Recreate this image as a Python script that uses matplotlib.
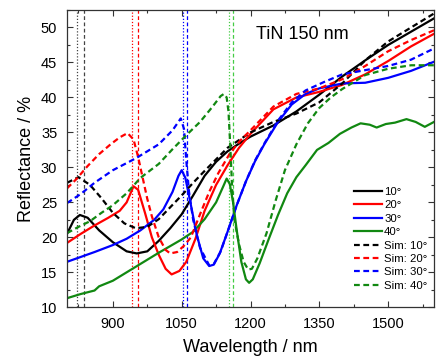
import numpy as np
import matplotlib
matplotlib.use("Agg")
import matplotlib.pyplot as plt
from matplotlib.ticker import MultipleLocator

plt.rcParams['font.family'] = ['Liberation Sans', 'DejaVu Sans']

# measured spectra (wavelength in nm, reflectance in %)
wl_10 = [800, 815, 828, 845, 870, 900, 930, 952, 975, 1000, 1025, 1050, 1075, 1100,
         1125, 1150, 1175, 1200, 1250, 1300, 1350, 1400, 1450, 1500, 1550, 1600]
r_10 = [20.5, 22.5, 23.2, 22.8, 21.0, 19.3, 18.0, 17.7, 18.0, 19.5, 21.3, 23.3, 26.0, 28.8,
        30.8, 32.3, 33.4, 34.4, 36.0, 38.0, 40.4, 43.0, 45.3, 47.5, 49.4, 51.3]

wl_20 = [800, 830, 860, 890, 915, 930, 945, 955, 970, 985, 1000, 1015, 1028, 1045, 1060,
         1080, 1100, 1125, 1150, 1175, 1200, 1250, 1300, 1350, 1400, 1450, 1500, 1550, 1600]
r_20 = [19.2, 20.5, 21.7, 22.8, 23.8, 25.0, 27.3, 26.8, 23.5, 20.0, 17.5, 15.5, 14.7, 15.2, 16.5,
        19.8, 23.8, 27.5, 30.3, 32.8, 34.8, 38.3, 40.0, 40.8, 41.8, 43.3, 45.2, 47.3, 49.1]

wl_30 = [800, 830, 860, 900, 930, 960, 990, 1010, 1030, 1043, 1050, 1058, 1068, 1083, 1097,
         1110, 1120, 1133, 1150, 1170, 1190, 1210, 1230, 1260, 1290, 1320, 1350, 1400, 1450,
         1500, 1550, 1600]
r_30 = [16.5, 17.2, 17.9, 18.9, 19.8, 21.0, 22.5, 24.0, 26.5, 28.8, 29.6, 28.5, 25.3, 20.3, 17.0,
        15.9, 16.1, 17.7, 20.8, 24.6, 28.0, 30.9, 33.3, 36.5, 39.0, 40.5, 41.3, 42.0, 42.1,
        42.8, 43.8, 45.1]

wl_40 = [800, 830, 860, 870, 900, 950, 1000, 1050, 1075, 1100, 1125, 1140, 1148, 1155, 1162,
         1170, 1180, 1190, 1197, 1205, 1220, 1240, 1260, 1280, 1300, 1320, 1345, 1370, 1395,
         1420, 1440, 1460, 1475, 1495, 1515, 1540, 1560, 1580, 1600]
r_40 = [11.3, 11.9, 12.4, 13.0, 13.8, 15.8, 17.8, 19.7, 20.8, 22.6, 25.0, 27.2, 28.4, 27.6, 25.0,
        21.0, 16.5, 14.0, 13.5, 14.0, 16.3, 19.8, 23.2, 26.3, 28.6, 30.3, 32.5, 33.5, 34.8,
        35.7, 36.3, 36.1, 35.7, 36.2, 36.4, 36.9, 36.5, 35.8, 36.5]

# simulated spectra
wl_s10 = [800, 825, 850, 875, 900, 925, 950, 975, 1000, 1025, 1050, 1075, 1100, 1150, 1200,
          1250, 1300, 1350, 1400, 1450, 1500, 1550, 1600]
r_s10 = [27.8, 28.6, 27.5, 25.6, 23.5, 22.0, 21.3, 21.5, 22.6, 24.3, 26.0, 27.8, 29.5, 32.8, 35.0,
         36.5, 37.7, 39.3, 42.0, 45.3, 48.0, 50.0, 52.0]

wl_s20 = [800, 820, 845, 870, 895, 915, 932, 945, 955, 965, 975, 985, 1000, 1015, 1025, 1040,
          1055, 1070, 1090, 1110, 1130, 1155, 1180, 1200, 1250, 1300, 1350, 1400, 1450, 1500,
          1550, 1600]
r_s20 = [27.0, 28.3, 30.2, 31.9, 33.3, 34.3, 34.9, 34.0, 31.5, 28.5, 25.5, 23.0, 20.0, 18.2, 17.7,
         17.9, 18.8, 20.0, 23.3, 26.5, 29.2, 32.0, 34.0, 35.3, 38.7, 40.5, 41.3, 42.6, 44.5,
         46.6, 48.2, 49.6]

wl_s30 = [800, 830, 860, 900, 950, 1000, 1030, 1048, 1055, 1060, 1066, 1075, 1090, 1110, 1120,
          1135, 1150, 1170, 1190, 1210, 1230, 1260, 1290, 1320, 1360, 1400, 1450, 1500, 1550, 1600]
r_s30 = [24.9, 26.2, 27.8, 29.6, 31.3, 33.3, 35.3, 37.0, 35.5, 31.0, 26.5, 22.5, 18.5, 16.0, 16.2,
         18.0, 20.8, 24.6, 28.0, 31.0, 33.4, 36.7, 39.3, 41.0, 42.2, 43.3, 43.9, 44.5, 45.4, 47.0]

wl_s40 = [800, 825, 850, 875, 900, 930, 960, 1000, 1030, 1060, 1090, 1115, 1135, 1142, 1148,
          1152, 1156, 1160, 1165, 1175, 1185, 1195, 1203, 1215, 1235, 1255, 1275, 1300, 1325,
          1350, 1375, 1400, 1450, 1500, 1550, 1600]
r_s40 = [20.6, 21.5, 22.3, 23.5, 24.6, 26.3, 28.5, 30.5, 32.6, 34.6, 36.5, 38.5, 40.2, 40.5, 40.0,
         38.0, 33.0, 27.0, 22.5, 19.0, 16.5, 15.4, 15.5, 17.0, 20.6, 25.3, 29.6, 33.3, 36.3,
         38.5, 40.0, 41.2, 43.2, 44.1, 44.6, 44.6]

# marker lines: dotted = measured dip, dashed = simulated dip
vl_meas = [822, 941, 1052, 1153]
vl_sim = [838, 954, 1062, 1162]

colors = ['black', 'red', 'blue', '#118811']
vl_colors = ['#444444', 'red', 'blue', '#44cc44']

fig = plt.figure(figsize=(4.36, 3.6), dpi=100)
ax = fig.add_axes([0.1537, 0.1464, 0.8417, 0.8258])

for x, c in zip(vl_meas, vl_colors):
    ax.axvline(x, color=c, lw=0.9, ls=(0, (1, 1.5)))
for x, c in zip(vl_sim, vl_colors):
    ax.axvline(x, color=c, lw=0.9, ls=(0, (3, 2)))

meas = [(wl_10, r_10, '10°'), (wl_20, r_20, '20°'), (wl_30, r_30, '30°'), (wl_40, r_40, '40°')]
sims = [(wl_s10, r_s10, 'Sim: 10°'), (wl_s20, r_s20, 'Sim: 20°'),
        (wl_s30, r_s30, 'Sim: 30°'), (wl_s40, r_s40, 'Sim: 40°')]

for (x, y, lab), c in zip(meas, colors):
    ax.plot(x, y, color=c, lw=1.6, label=lab)
for (x, y, lab), c in zip(sims, colors):
    ax.plot(x, y, color=c, lw=1.6, ls=(0, (2.6, 1.6)), label=lab)

ax.set_xlim(800, 1600)
ax.set_ylim(10, 52.5)
ax.xaxis.set_major_locator(MultipleLocator(150))
ax.xaxis.set_minor_locator(MultipleLocator(75))
ax.yaxis.set_major_locator(MultipleLocator(5))
ax.yaxis.set_minor_locator(MultipleLocator(2.5))
ax.set_xticks([900, 1050, 1200, 1350, 1500])
ax.tick_params(which='both', direction='in', top=True, right=True, labelsize=10.5,
               color='#333333', pad=7)
ax.tick_params(which='major', length=4.5, width=0.8)
ax.tick_params(which='minor', length=2.5, width=0.8)
for s in ax.spines.values():
    s.set_color('#333333')
    s.set_linewidth(0.9)

ax.set_xlabel('Wavelength / nm', fontsize=13, labelpad=6)
ax.set_ylabel('Reflectance / %', fontsize=13, labelpad=4)

ax.text(1312, 49.0, 'TiN 150 nm', fontsize=13, ha='center', va='center')

ax.legend(loc='upper left', bbox_to_anchor=(0.782, 0.405), frameon=False, fontsize=8.2,
          handlelength=2.5, handletextpad=0.15, labelspacing=0.3, borderpad=0,
          borderaxespad=0)

fig.savefig('out.png', dpi=100)
